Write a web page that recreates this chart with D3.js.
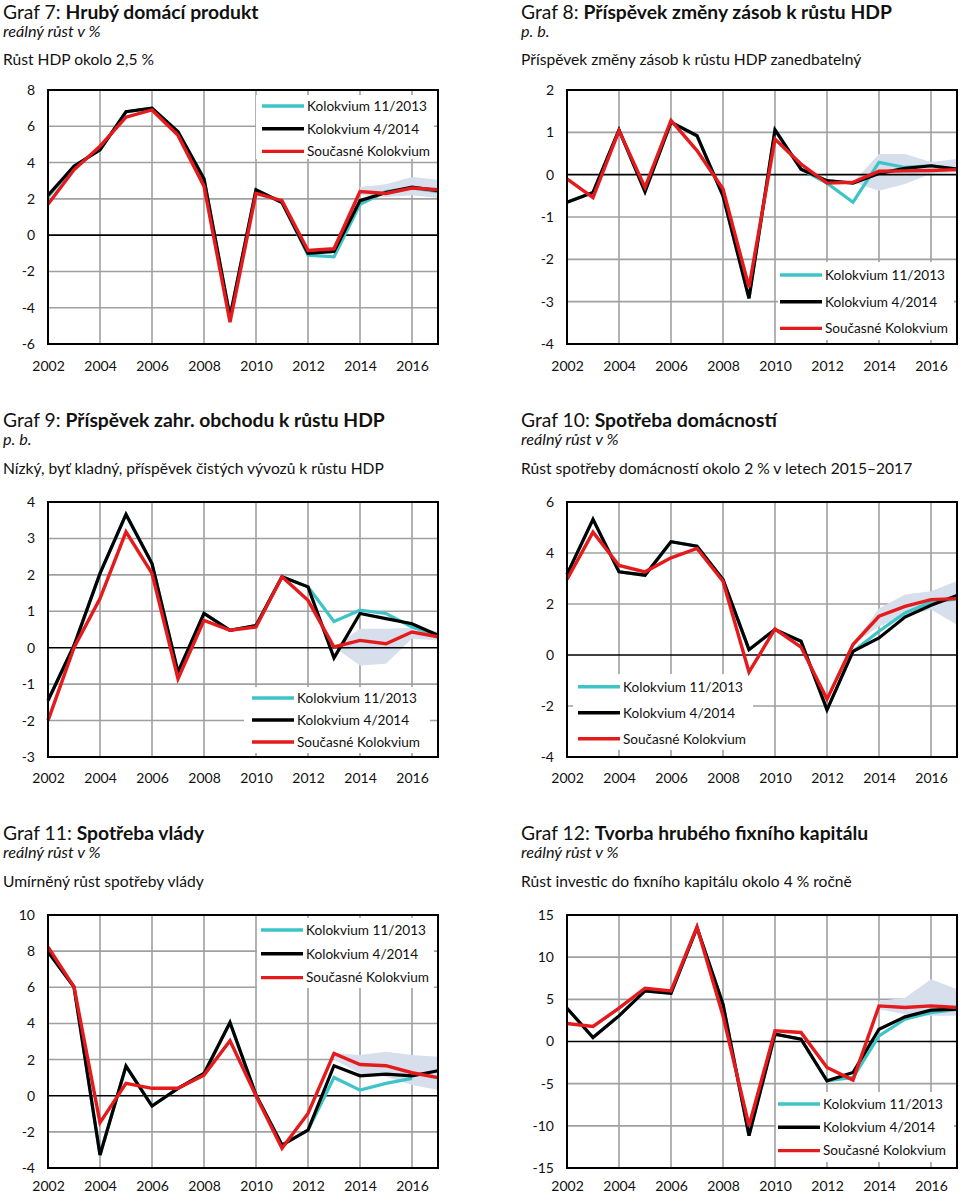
<!DOCTYPE html>
<html><head><meta charset="utf-8">
<script src="https://cdn.jsdelivr.net/npm/d3@7"></script>
<style>
body{margin:0;background:#fff}
svg{display:block}
text{font-family:Lato,'Open Sans',sans-serif;fill:#111}
</style>
</head><body>
<svg id="c" width="960" height="1194"></svg>
<script>
// ---------- data ----------
const years = [2002,2003,2004,2005,2006,2007,2008,2009,2010,2011,2012,2013,2014,2015,2016,2017];
const xTickYears = [2002,2004,2006,2008,2010,2012,2014,2016];
const seriesNames = ["Kolokvium 11/2013","Kolokvium 4/2014","Současné Kolokvium"];
const seriesColors = ["#3ec4c6","#000000","#e41a1c"];

// Graf 7: HDP
const g7Ticks = [-6,-4,-2,0,2,4,6,8];
const g7Cyan  = [2.1,3.8,4.7,6.8,7.0,5.7,3.1,-4.5,2.5,1.8,-1.1,-1.2,1.7,2.4,2.6,2.4];
const g7Black = [2.2,3.8,4.7,6.8,7.0,5.7,3.1,-4.5,2.5,1.8,-1.0,-0.9,1.9,2.35,2.65,2.45];
const g7Red   = [1.7,3.6,4.9,6.5,6.9,5.5,2.7,-4.8,2.3,1.9,-0.85,-0.75,2.4,2.3,2.6,2.5];
const g7BandYears = [2014,2015,2016,2017];
const g7BandLo = [2.2,2.1,2.2,2.05];
const g7BandHi = [2.65,2.8,3.2,3.05];

// Graf 8: zásoby
const g8Ticks = [-4,-3,-2,-1,0,1,2];
const g8Cyan  = [-0.65,-0.42,1.06,-0.4,1.24,0.92,-0.5,-2.92,1.06,0.13,-0.2,-0.65,0.29,0.17,0.21,0.13];
const g8Black = [-0.65,-0.42,1.06,-0.4,1.24,0.92,-0.5,-2.92,1.06,0.13,-0.14,-0.2,0.03,0.15,0.21,0.13];
const g8Red   = [-0.1,-0.54,1.04,-0.3,1.28,0.57,-0.34,-2.66,0.84,0.25,-0.2,-0.18,0.08,0.09,0.1,0.12];
const g8BandYears = [2013,2014,2015,2016,2017];
const g8BandLo = [-0.18,-0.38,-0.22,0.02,0.06];
const g8BandHi = [-0.18,0.49,0.49,0.3,0.37];

// Graf 9: zahraniční obchod
const g9Ticks = [-3,-2,-1,0,1,2,3,4];
const g9Cyan  = [-1.45,0.06,2.04,3.66,2.31,-0.67,0.94,0.48,0.61,1.95,1.67,0.72,1.03,0.94,0.57,0.35];
const g9Black = [-1.45,0.06,2.04,3.66,2.31,-0.67,0.94,0.48,0.61,1.95,1.67,-0.28,0.94,0.8,0.66,0.34];
const g9Red   = [-2.0,0.0,1.35,3.18,2.04,-0.85,0.75,0.48,0.57,1.95,1.3,0.02,0.2,0.11,0.43,0.3];
const g9BandYears = [2013,2014,2015,2016,2017];
const g9BandLo = [0.02,-0.49,-0.44,0.25,0.2];
const g9BandHi = [0.02,0.52,0.52,0.55,0.45];

// Graf 10: spotřeba domácností
const g10Ticks = [-4,-2,0,2,4,6];
const g10Cyan  = [3.16,5.32,3.26,3.13,4.44,4.27,2.96,0.21,1.0,0.54,-2.15,0.14,0.93,1.65,2.08,2.2];
const g10Black = [3.16,5.32,3.26,3.13,4.44,4.27,2.96,0.21,1.0,0.54,-2.15,0.14,0.67,1.49,1.95,2.33];
const g10Red   = [2.96,4.82,3.51,3.26,3.81,4.18,2.89,-0.67,1.02,0.31,-1.73,0.41,1.52,1.91,2.17,2.21];
const g10BandYears = [2013,2014,2015,2016,2017];
const g10BandLo = [0.41,1.13,1.52,1.78,1.19];
const g10BandHi = [0.41,1.82,2.37,2.5,2.9];

// Graf 11: spotřeba vlády
const g11Ticks = [-4,-2,0,2,4,6,8,10];
const g11Cyan  = [7.96,6.02,-3.28,1.64,-0.57,0.41,1.23,4.05,0.04,-2.73,-1.9,1.01,0.31,0.68,0.96,null];
const g11Black = [7.96,6.02,-3.28,1.64,-0.57,0.41,1.23,4.05,0.04,-2.73,-1.9,1.66,1.1,1.2,1.1,1.38];
const g11Red   = [8.23,6.02,-1.49,0.68,0.41,0.41,1.14,3.04,0.0,-2.91,-0.98,2.34,1.73,1.66,1.27,1.0];
const g11BandYears = [2013,2014,2015,2016,2017];
const g11BandLo = [2.0,1.23,1.05,0.59,0.31];
const g11BandHi = [2.34,2.25,2.43,2.25,2.15];

// Graf 12: tvorba hrubého fixního kapitálu
const g12Ticks = [-15,-10,-5,0,5,10,15];
const g12Cyan  = [3.95,0.47,3.04,6.0,5.72,13.5,4.42,-11.17,0.87,0.28,-4.66,-4.26,0.67,2.65,3.43,3.8];
const g12Black = [3.95,0.47,3.04,6.0,5.72,13.5,4.42,-11.17,0.87,0.28,-4.66,-3.67,1.46,2.92,3.71,3.83];
const g12Red   = [2.13,1.78,3.95,6.32,6.0,13.58,3.04,-9.99,1.26,1.07,-3.08,-4.58,4.22,4.03,4.22,4.03];
const g12BandYears = [2014,2015,2016,2017];
const g12BandLo = [3.83,3.24,3.04,3.04];
const g12BandHi = [4.8,5.2,7.38,6.2];

// ---------- layout ----------
const charts = [
  {num:"Graf 7: ", title:"Hrubý domácí produkt", unit:"reálný růst v %", note:"Růst HDP okolo 2,5 %",
   col:0,row:0, ticks:g7Ticks, series:[g7Cyan,g7Black,g7Red], bandYears:g7BandYears, lo:g7BandLo, hi:g7BandHi,
   legend:{x:262,y:106,dy:22.7,box:[256,95,178,64]}},
  {num:"Graf 8: ", title:"Příspěvek změny zásob k růstu HDP", unit:"p. b.", note:"Příspěvek změny zásob k růstu HDP zanedbatelný",
   col:1,row:0, ticks:g8Ticks, series:[g8Cyan,g8Black,g8Red], bandYears:g8BandYears, lo:g8BandLo, hi:g8BandHi,
   legend:{x:780,y:275,dy:26.7,box:[778,262,176,78]}},
  {num:"Graf 9: ", title:"Příspěvek zahr. obchodu k růstu HDP", unit:"p. b.", note:"Nízký, byť kladný, příspěvek čistých vývozů k růstu HDP",
   col:0,row:1, ticks:g9Ticks, series:[g9Cyan,g9Black,g9Red], bandYears:g9BandYears, lo:g9BandLo, hi:g9BandHi,
   legend:{x:252,y:698,dy:22,box:[244,687,186,66]}},
  {num:"Graf 10: ", title:"Spotřeba domácností", unit:"reálný růst v %", note:"Růst spotřeby domácností okolo 2 % v letech 2015–2017",
   col:1,row:1, ticks:g10Ticks, series:[g10Cyan,g10Black,g10Red], bandYears:g10BandYears, lo:g10BandLo, hi:g10BandHi,
   legend:{x:578,y:686.7,dy:26,box:[573,674,180,76]}},
  {num:"Graf 11: ", title:"Spotřeba vlády", unit:"reálný růst v %", note:"Umírněný růst spotřeby vlády",
   col:0,row:2, ticks:g11Ticks, series:[g11Cyan,g11Black,g11Red], bandYears:g11BandYears, lo:g11BandLo, hi:g11BandHi,
   legend:{x:261,y:930,dy:23.8,box:[257,918,177,70]}},
  {num:"Graf 12: ", title:"Tvorba hrubého fixního kapitálu", unit:"reálný růst v %", note:"Růst investic do fixního kapitálu okolo 4 % ročně",
   col:1,row:2, ticks:g12Ticks, series:[g12Cyan,g12Black,g12Red], bandYears:g12BandYears, lo:g12BandLo, hi:g12BandHi,
   legend:{x:778,y:1104,dy:23.3,box:[776,1092,178,70]}}
];

const colX = [{left:48,right:438,text:3},{left:567,right:957,text:521}];
const rowY = [
  {top:90,bottom:344,title:19.2,unit:37,note:64.5,xlab:370.5},
  {top:502,bottom:757,title:427,unit:445,note:474,xlab:783},
  {top:915,bottom:1168,title:840,unit:858,note:887,xlab:1190.5}
];

const svg = d3.select("#c");
const FONT = "Lato,'Open Sans',sans-serif";

charts.forEach(c => {
  const cx = colX[c.col], ry = rowY[c.row];
  const g = svg.append("g");

  // titles
  const t = g.append("text").attr("x",cx.text).attr("y",ry.title).attr("font-size",19.3);
  t.append("tspan").text(c.num);
  t.append("tspan").attr("font-weight","bold").text(c.title);
  g.append("text").attr("x",cx.text).attr("y",ry.unit).attr("font-size",16.2)
    .attr("font-style","italic").text(c.unit);
  g.append("text").attr("x",cx.text).attr("y",ry.note).attr("font-size",15.6).text(c.note);

  const x = d3.scaleLinear().domain([years[0], years[years.length-1]]).range([cx.left, cx.right]);
  const y = d3.scaleLinear().domain(d3.extent(c.ticks)).range([ry.bottom, ry.top]);

  // gridlines
  const grid = g.append("g").attr("stroke","#a0a0a0").attr("stroke-width",1.6);
  grid.selectAll("line.h").data(c.ticks.filter(v => v!==0 && v!==c.ticks[0] && v!==c.ticks[c.ticks.length-1]))
    .join("line").attr("x1",cx.left).attr("x2",cx.right).attr("y1",d=>y(d)).attr("y2",d=>y(d));
  grid.selectAll("line.v").data(xTickYears.filter(v => v!==years[0]))
    .join("line").attr("y1",ry.top).attr("y2",ry.bottom).attr("x1",d=>x(d)).attr("x2",d=>x(d));

  // band
  const bandData = c.bandYears.map((yr,i)=>({yr, lo:c.lo[i], hi:c.hi[i]}));
  g.append("path").datum(bandData)
    .attr("fill","#d6dfeb")
    .attr("d", d3.area().x(d=>x(d.yr)).y0(d=>y(d.lo)).y1(d=>y(d.hi)));

  // legend box
  const L = c.legend;
  g.append("rect").attr("x",L.box[0]).attr("y",L.box[1]).attr("width",L.box[2]).attr("height",L.box[3]).attr("fill","#fff");

  // zero line
  g.append("line").attr("x1",cx.left).attr("x2",cx.right).attr("y1",y(0)).attr("y2",y(0))
    .attr("stroke","#000").attr("stroke-width",1.6);

  // lines
  const line = d3.line().defined(d=>d.v!==null).x(d=>x(d.yr)).y(d=>y(d.v));
  c.series.forEach((s,i)=>{
    g.append("path").datum(years.map((yr,j)=>({yr, v:s[j]})))
      .attr("fill","none").attr("stroke",seriesColors[i])
      .attr("stroke-width", i===2 ? 3.4 : 3.2).attr("stroke-linejoin","miter")
      .attr("d", line);
  });

  // frame
  g.append("rect").attr("x",cx.left).attr("y",ry.top).attr("width",cx.right-cx.left).attr("height",ry.bottom-ry.top)
    .attr("fill","none").attr("stroke","#000").attr("stroke-width",2);

  // y axis labels
  const yAxis = d3.axisLeft(y).tickValues(c.ticks).tickSize(0).tickPadding(13).tickFormat(d => String(d));
  const ya = g.append("g").attr("transform",`translate(${cx.left},0)`).call(yAxis);
  ya.select(".domain").remove();
  ya.selectAll("text").attr("font-size",14).attr("font-family",FONT).attr("fill","#111");

  // x axis labels
  const xAxis = d3.axisBottom(x).tickValues(xTickYears).tickSize(0).tickPadding(0).tickFormat(d => String(d));
  const xa = g.append("g").attr("transform",`translate(0,${ry.xlab})`).call(xAxis);
  xa.select(".domain").remove();
  xa.selectAll("text").attr("font-size",14).attr("font-family",FONT).attr("fill","#111").attr("dy",null).attr("y",0);

  // legend
  seriesNames.forEach((n,i)=>{
    const ly = L.y + i*L.dy;
    g.append("line").attr("x1",L.x).attr("x2",L.x+42).attr("y1",ly).attr("y2",ly)
      .attr("stroke",seriesColors[i]).attr("stroke-width",3.4);
    g.append("text").attr("x",L.x+45).attr("y",ly).attr("dy","0.36em").attr("font-size",13.6).text(n);
  });
});
</script>
</body></html>
